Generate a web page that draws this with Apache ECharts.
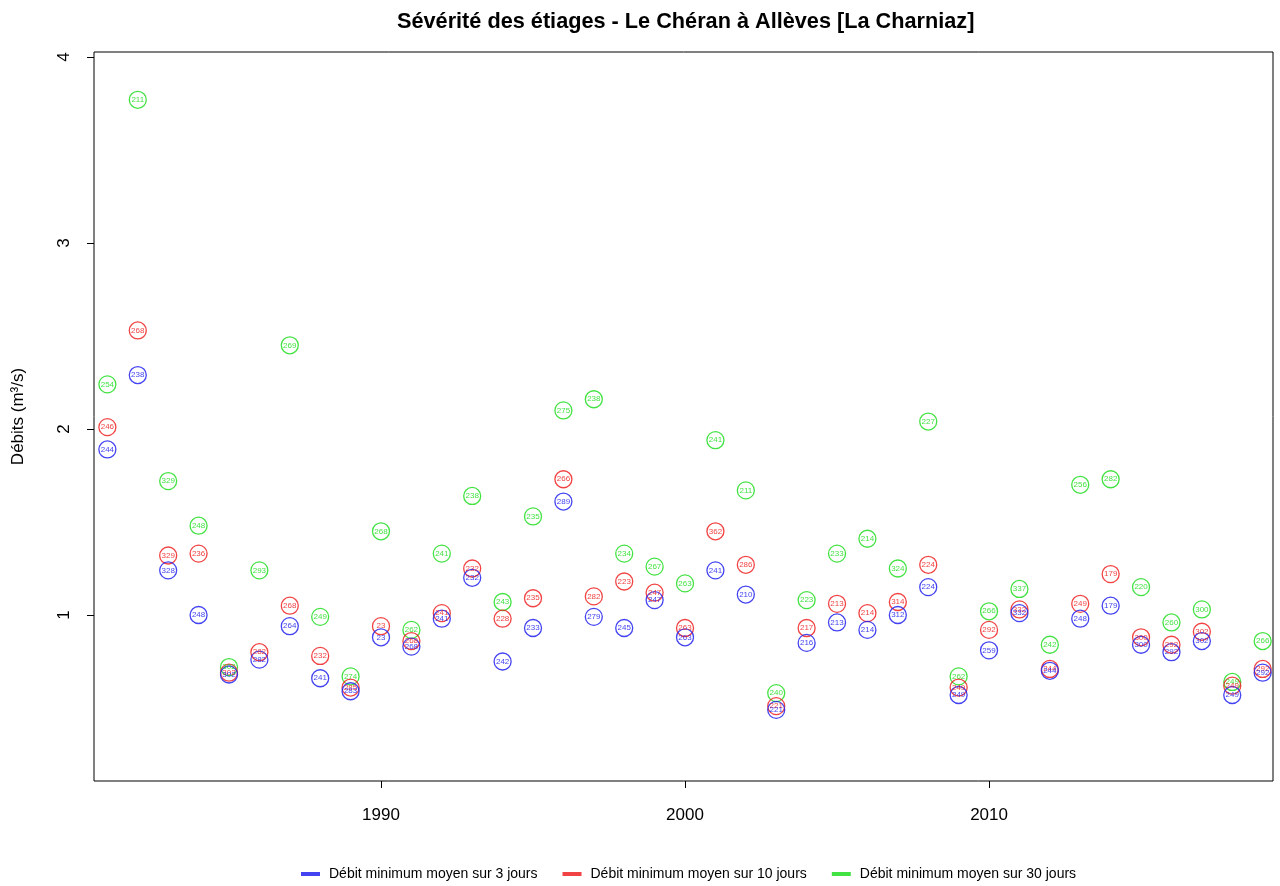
<!DOCTYPE html>
<html>
<head>
<meta charset="utf-8">
<script src="https://cdn.jsdelivr.net/npm/echarts@6/dist/echarts.min.js"></script>
<style>html,body{margin:0;padding:0;background:#fff;}#c{width:1280px;height:886px;}</style>
</head>
<body>
<div id="c"></div>
<script>
const years = [1981,1982,1983,1984,1985,1986,1987,1988,1989,1990,1991,1992,1993,1994,1995,1996,1997,1998,1999,2000,2001,2002,2003,2004,2005,2006,2007,2008,2009,2010,2011,2012,2013,2014,2015,2016,2017,2018,2019];
const q3 = [1.89,2.29,1.24,1.00,0.68,0.76,0.94,0.66,0.59,0.88,0.83,0.98,1.20,0.75,0.93,1.61,0.99,0.93,1.08,0.88,1.24,1.11,0.49,0.85,0.96,0.92,1.00,1.15,0.57,0.81,1.01,0.70,0.98,1.05,0.84,0.80,0.86,0.57,0.69];
const q10 = [2.01,2.53,1.32,1.33,0.69,0.80,1.05,0.78,0.61,0.94,0.86,1.01,1.25,0.98,1.09,1.73,1.10,1.18,1.12,0.93,1.45,1.27,0.51,0.93,1.06,1.01,1.07,1.27,0.61,0.92,1.03,0.71,1.06,1.22,0.88,0.84,0.91,0.62,0.71];
const q30 = [2.24,3.77,1.72,1.48,0.72,1.24,2.45,0.99,0.67,1.45,0.92,1.33,1.64,1.07,1.53,2.10,2.16,1.33,1.26,1.17,1.94,1.67,0.58,1.08,1.33,1.41,1.25,2.04,0.67,1.02,1.14,0.84,1.70,1.73,1.15,0.96,1.03,0.64,0.86];
const lab3 = [244,238,328,248,302,282,264,241,283,23,268,241,232,242,233,289,279,245,247,263,241,210,221,216,213,214,312,224,249,259,332,244,248,179,300,292,302,249,292];
const lab10 = [246,268,329,236,302,282,268,232,285,23,268,241,232,228,235,266,282,223,247,263,362,286,221,217,213,214,314,224,249,292,332,244,249,179,300,292,302,249,292];
const lab30 = [254,211,329,248,302,293,269,249,274,268,262,241,238,243,235,275,238,234,267,263,241,211,240,223,233,214,324,227,262,266,337,242,256,282,220,260,300,249,266];
const xTicks = [1990, 2000, 2010];
const yTicks = [1, 2, 3, 4];
const names = ['Débit minimum moyen sur 3 jours','Débit minimum moyen sur 10 jours','Débit minimum moyen sur 30 jours'];

const FONT = 'Liberation Sans, Arial, sans-serif';
function mk(vals, labs){ return years.map((y,i)=>[y, vals[i], labs[i]]); }
function series(name, vals, labs, color){
  return {
    name: name, type: 'scatter', data: mk(vals, labs),
    symbol: 'circle', symbolSize: 17,
    itemStyle: { color: 'rgba(0,0,0,0)', borderColor: color, borderWidth: 1.3, opacity: 0.85 },
    label: { show: true, position: 'inside', formatter: p => String(p.data[2]), color: color, fontSize: 8, fontFamily: FONT, opacity: 0.85 },
    emphasis: { disabled: true }
  };
}
const chart = echarts.init(document.getElementById('c'), null, {renderer: 'canvas'});
chart.setOption({
  animation: false,
  backgroundColor: '#fff',
  title: { text: 'Sévérité des étiages - Le Chéran à Allèves [La Charniaz]', left: 392, top: 6,
    textStyle: { fontSize: 21.7, fontWeight: 'bold', fontFamily: FONT, color: '#000' } },
  legend: {
    bottom: 0, left: 296, itemGap: 25, itemWidth: 17, itemHeight: 2, icon: 'rect',
    data: names,
    textStyle: { fontSize: 14, fontFamily: FONT, color: '#000', padding: [0, 0, 0, 5] }
  },
  grid: { left: 94, right: 7, top: 52, bottom: 105, show: true, borderColor: '#000', borderWidth: 1, backgroundColor: 'transparent', containLabel: false, outerBoundsMode: 'none' },
  xAxis: {
    type: 'value', min: 1980.56, max: 2019.34,
    axisLine: { show: false },
    axisTick: { show: true, length: 7, lineStyle: { color: '#000' }, customValues: xTicks },
    axisLabel: { color: '#000', fontSize: 17, fontFamily: FONT, margin: 26, customValues: xTicks, formatter: v => String(v) },
    splitLine: { show: false }
  },
  yAxis: {
    type: 'value', min: 0.1075, max: 4.027,
    name: 'Débits (m³/s)', nameLocation: 'middle', nameGap: 67, nameRotate: 90,
    nameTextStyle: { fontSize: 17, fontFamily: FONT, color: '#000' },
    axisLine: { show: false },
    axisTick: { show: true, length: 7, lineStyle: { color: '#000' }, customValues: yTicks },
    axisLabel: { color: '#000', fontSize: 17, fontFamily: FONT, rotate: 90, margin: 21, customValues: yTicks, align: 'center' },
    splitLine: { show: false }
  },
  series: [
    series(names[2], q30, lab30, '#22dd22'),
    series(names[1], q10, lab10, '#ee2222'),
    series(names[0], q3, lab3, '#2222ee')
  ],
  color: ['#22dd22','#ee2222','#2222ee']
});
</script>
</body>
</html>
